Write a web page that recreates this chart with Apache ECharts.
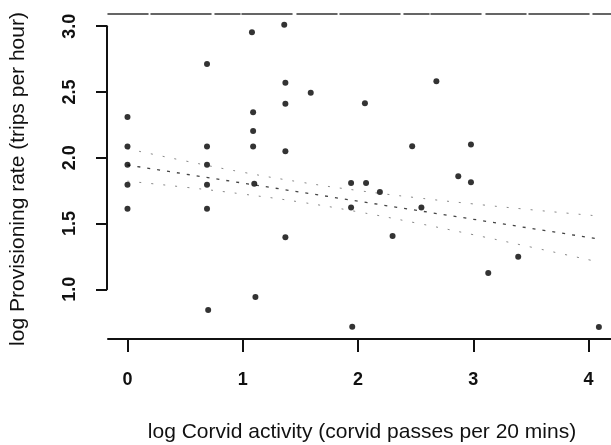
<!DOCTYPE html>
<html>
<head>
<meta charset="utf-8">
<script src="https://cdn.jsdelivr.net/npm/echarts@6/dist/echarts.min.js"></script>
<style>
html,body{margin:0;padding:0;background:#fff;}
#chart{width:611px;height:445px;}
</style>
</head>
<body>
<div id="chart"></div>
<script>
// ---- data ----
var corvidActivity = [
  0, 0, 0, 0, 0,
  0.69, 0.69, 0.69, 0.69, 0.69, 0.70,
  1.08, 1.09, 1.09, 1.09, 1.10, 1.11,
  1.36, 1.37, 1.37, 1.37, 1.37,
  1.59,
  1.94, 1.94, 1.95,
  2.06, 2.07,
  2.19, 2.30, 2.47, 2.55, 2.68, 2.87,
  2.98, 2.98,
  3.13, 3.39, 4.09
];
var provisioningRate = [
  2.31, 2.085, 1.947, 1.795, 1.613,
  2.713, 2.085, 1.947, 1.795, 1.613, 0.843,
  2.954, 2.346, 2.204, 2.085, 1.803, 0.941,
  3.012, 2.571, 2.411, 2.049, 1.395,
  2.495,
  1.808, 1.621, 0.716,
  2.414, 1.808,
  1.740, 1.405, 2.087, 1.621, 2.582, 1.859,
  2.100, 1.814,
  1.124, 1.248, 0.713
];
var fitX = [0, 4.1];
var fitY = [1.945, 1.381];
var bandX = [0, 0.5, 1, 1.5, 2, 2.5, 3, 3.5, 4.05];
var bandUpper = [2.068, 1.976, 1.890, 1.815, 1.751, 1.697, 1.649, 1.605, 1.560];
var bandLower = [1.822, 1.776, 1.724, 1.663, 1.589, 1.505, 1.415, 1.321, 1.215];
var xTicks = [0, 1, 2, 3, 4];
var yTicks = [1.0, 1.5, 2.0, 2.5, 3.0];
var xTitle = 'log Corvid activity (corvid passes per 20 mins)';
var yTitle = 'log Provisioning rate (trips per hour)';

function zip(a, b) { return a.map(function (v, i) { return [v, b[i]]; }); }

var FONT = '"Liberation Sans", Arial, sans-serif';
var chart = echarts.init(document.getElementById('chart'), null, {renderer: 'canvas'});

chart.setOption({
  animation: false,
  backgroundColor: '#fff',
  grid: [
    {left: 108, width: 503, top: 14, height: 325},
    {left: 127.5, width: 461, top: 26.2, height: 263.1}
  ],
  xAxis: [
    {gridIndex: 0, type: 'value', min: -0.169, max: 4.195, position: 'bottom',
     axisLine: {show: true, onZero: false, lineStyle: {color: '#111', width: 2}},
     axisTick: {show: false}, axisLabel: {show: false}, splitLine: {show: false}},
    {gridIndex: 0, type: 'value', min: -0.169, max: 4.195, position: 'top',
     axisLine: {show: true, onZero: false, lineStyle: {color: '#333', width: 1.5, type: [40, 3, 60, 4, 25, 2, 50, 5]}},
     axisTick: {show: false}, axisLabel: {show: false}, splitLine: {show: false}},
    {gridIndex: 1, type: 'value', min: xTicks[0], max: xTicks[xTicks.length - 1], interval: 1,
     position: 'bottom', offset: 49.7,
     axisLine: {show: false, onZero: false},
     axisTick: {show: true, length: 13, lineStyle: {color: '#111', width: 2}},
     axisLabel: {show: true, margin: 32, fontSize: 18, fontWeight: 'bold', fontFamily: FONT, color: '#111',
                 formatter: function (v) { return String(v); }},
     splitLine: {show: false}}
  ],
  yAxis: [
    {gridIndex: 0, type: 'value', min: 0.622, max: 3.093, show: false, splitLine: {show: false}},
    {gridIndex: 1, type: 'value', min: yTicks[0], max: yTicks[yTicks.length - 1], interval: 0.5,
     position: 'left', offset: 20.5,
     axisLine: {show: true, onZero: false, lineStyle: {color: '#111', width: 2}},
     axisTick: {show: true, length: 11, lineStyle: {color: '#111', width: 2}},
     axisLabel: {show: true, rotate: 90, margin: 28, fontSize: 18, fontWeight: 'bold', fontFamily: FONT, color: '#111',
                 formatter: function (v) { return v.toFixed(1); }},
     splitLine: {show: false}}
  ],
  graphic: [
    {type: 'text', silent: true, x: 362, y: 432,
     style: {text: xTitle, font: '21px ' + FONT, fill: '#111', textAlign: 'center', textVerticalAlign: 'middle'}},
    {type: 'text', silent: true, x: 18, y: 179, rotation: Math.PI / 2,
     style: {text: yTitle, font: '21px ' + FONT, fill: '#111', textAlign: 'center', textVerticalAlign: 'middle'}}
  ],
  series: [
    {type: 'line', xAxisIndex: 0, yAxisIndex: 0, data: zip(bandX, bandUpper), smooth: true,
     showSymbol: false, lineStyle: {color: '#888', width: 1, type: [2, 10]}, z: 1},
    {type: 'line', xAxisIndex: 0, yAxisIndex: 0, data: zip(bandX, bandLower), smooth: true,
     showSymbol: false, lineStyle: {color: '#888', width: 1, type: [2, 10]}, z: 1},
    {type: 'line', xAxisIndex: 0, yAxisIndex: 0, data: zip(fitX, fitY),
     showSymbol: false, lineStyle: {color: '#444', width: 1.3, type: [3, 7]}, z: 2},
    {type: 'scatter', xAxisIndex: 0, yAxisIndex: 0, data: zip(corvidActivity, provisioningRate),
     symbol: 'circle', symbolSize: 6, itemStyle: {color: '#000'}, z: 3}
  ]
});
</script>
</body>
</html>
